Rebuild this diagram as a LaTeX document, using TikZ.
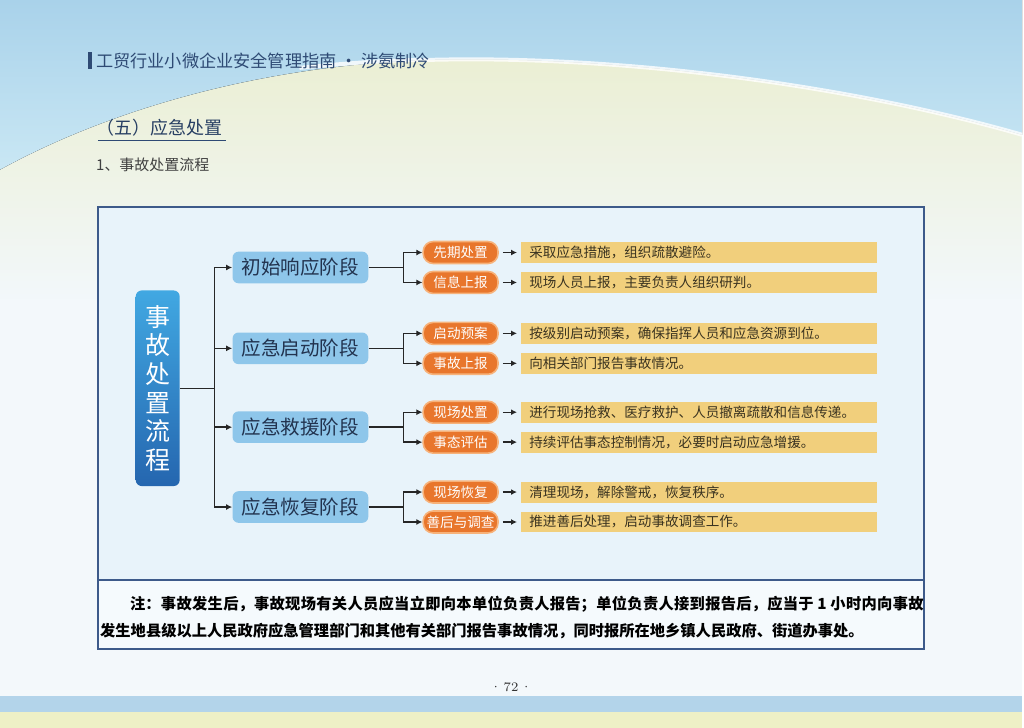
\documentclass[tikz,border=0pt]{standalone}
\usepackage{fontspec}
\usepackage{xcolor}
\usepackage{tikz}
\usetikzlibrary{arrows.meta,positioning,fadings}
\newfontfamily\cjk{Noto Sans CJK SC}
\XeTeXlinebreaklocale "zh"
\XeTeXlinebreakskip=0pt plus 1pt

\definecolor{pagebg}{HTML}{F3F8FB}
\definecolor{skytop}{HTML}{A9D2EA}
\definecolor{skylow}{HTML}{C9E7F4}
\definecolor{cream}{HTML}{EBEFD3}
\definecolor{framefill}{HTML}{E8F3FA}
\definecolor{notefill}{HTML}{F5FAFD}
\definecolor{frameline}{HTML}{3D5A8A}
\definecolor{rootlight}{HTML}{41A8E2}
\definecolor{rootdark}{HTML}{2566AF}
\definecolor{stagefill}{HTML}{8EC6EA}
\definecolor{stagetext}{HTML}{22334F}
\definecolor{tagfill}{HTML}{E8762C}
\definecolor{tagedge}{HTML}{F7B27A}
\definecolor{descfill}{HTML}{F1CF7C}
\definecolor{desctext}{HTML}{3A3320}
\definecolor{bandblue}{HTML}{B3D4EA}
\definecolor{bandyellow}{HTML}{EEF0C6}
\definecolor{headtext}{HTML}{2E4A74}

\begin{document}
\begin{tikzpicture}[x=0.5pt,y=-0.5pt,font=\cjk,>={Latex[length=3pt,width=3pt]},
  link/.style={draw=black!85,line width=0.7pt},
  rootbox/.style={rounded corners=3pt,top color=rootlight,bottom color=rootdark,draw=none,
    text=white,minimum width=22pt,minimum height=98pt,align=center,
    font=\cjk\fontsize{12.5pt}{14.3pt}\selectfont},
  stagebox/.style={rounded corners=3pt,fill=stagefill,text=stagetext,minimum width=68pt,
    minimum height=14pt,font=\cjk\fontsize{9.8pt}{11pt}\selectfont},
  tagbox/.style={rounded corners=5pt,fill=tagfill,draw=tagedge,line width=0.8pt,text=white,
    minimum width=37.5pt,minimum height=11pt,inner xsep=1pt,inner ysep=0pt,
    font=\cjk\fontsize{6.8pt}{8pt}\selectfont},
  descbox/.style={fill=descfill,text=desctext,anchor=west,text width=170pt,inner xsep=4pt,
    inner ysep=0pt,minimum height=10.5pt,align=left,font=\cjk\fontsize{6.8pt}{8pt}\selectfont}]

  % page background
  \fill[pagebg] (0,0) rectangle (1024,729);
  \fill[cream,path fading=south] (0,120) .. controls (100,90) and (250,60) .. (430,58)
    .. controls (620,53) and (850,85) .. (1024,130) -- (1024,300) -- (0,300) -- cycle;
  \fill[top color=skytop,bottom color=skylow] (0,0) -- (1024,0) -- (1024,135)
    .. controls (850,85) and (620,55) .. (430,60) .. controls (250,66) and (100,115) .. (0,170) -- cycle;
  \draw[white,line width=2pt,opacity=0.8] (300,68) .. controls (360,62) and (400,60) .. (430,60)
    .. controls (620,55) and (850,85) .. (1024,135);
  \fill[bandblue] (0,697) rectangle (1024,713);
  \fill[bandyellow] (0,713) rectangle (1024,729);

  % heading
  \fill[headtext] (88,52) rectangle (92,69);
  \node[anchor=west,inner sep=0pt,text=headtext,font=\cjk\fontsize{8.6pt}{10pt}\selectfont] (head) at (96,61)
    {工贸行业小微企业安全管理指南 · 涉氨制冷};
  \node[anchor=west,inner sep=0pt,text=headtext!85!black,font=\cjk\fontsize{9pt}{10pt}\selectfont] (sect) at (96,128)
    {（五）应急处置};
  \draw[headtext,line width=0.6pt] (98,141) -- (226,141);
  \node[anchor=west,inner sep=0pt,text=black!75,font=\cjk\fontsize{7.5pt}{9pt}\selectfont] (sub) at (96,165)
    {1、事故处置流程};

  % frame
  \fill[framefill] (98,207) rectangle (926,581);
  \fill[notefill] (98,581) rectangle (926,650);
  \draw[frameline,line width=1pt] (98,207) rectangle (926,650);
  \draw[frameline,line width=1pt] (98,581) -- (926,581);

  % root and stages
  \node[rootbox] (root) at (158,389) {事\\故\\处\\置\\流\\程};
  \node[stagebox] (s1) at (301,268) {初始响应阶段};
  \node[stagebox] (s2) at (301,349) {应急启动阶段};
  \node[stagebox] (s3) at (301,428) {应急救援阶段};
  \node[stagebox] (s4) at (301,508) {应急恢复阶段};
  \coordinate (rj) at (215,389);
  \draw[link] (root) -- (rj);
  \draw[link,->] (rj) |- (s1);
  \draw[link,->] (rj) |- (s2);
  \draw[link,->] (rj) |- (s3);
  \draw[link,->] (rj) |- (s4);

  % tags
  \node[tagbox] (t1a) at (461.5,253) {先期处置};
  \node[tagbox] (t1b) at (461.5,283) {信息上报};
  \node[tagbox] (t2a) at (461.5,334) {启动预案};
  \node[tagbox] (t2b) at (461.5,364) {事故上报};
  \node[tagbox] (t3a) at (461.5,413) {现场处置};
  \node[tagbox] (t3b) at (461.5,443) {事态评估};
  \node[tagbox] (t4a) at (461.5,493) {现场恢复};
  \node[tagbox] (t4b) at (461.5,523) {善后与调查};
  \coordinate (j1) at (404,268);
  \coordinate (j2) at (404,349);
  \coordinate (j3) at (404,428);
  \coordinate (j4) at (404,508);
  \draw[link] (s1) -- (j1);
  \draw[link] (s2) -- (j2);
  \draw[link] (s3) -- (j3);
  \draw[link] (s4) -- (j4);
  \draw[link,->] (j1) |- (t1a);
  \draw[link,->] (j1) |- (t1b);
  \draw[link,->] (j2) |- (t2a);
  \draw[link,->] (j2) |- (t2b);
  \draw[link,->] (j3) |- (t3a);
  \draw[link,->] (j3) |- (t3b);
  \draw[link,->] (j4) |- (t4a);
  \draw[link,->] (j4) |- (t4b);

  % descriptions
  \node[descbox] (d1a) at (522,253) {采取应急措施，组织疏散避险。};
  \node[descbox] (d1b) at (522,283) {现场人员上报，主要负责人组织研判。};
  \node[descbox] (d2a) at (522,334) {按级别启动预案，确保指挥人员和应急资源到位。};
  \node[descbox] (d2b) at (522,364) {向相关部门报告事故情况。};
  \node[descbox] (d3a) at (522,413) {进行现场抢救、医疗救护、人员撤离疏散和信息传递。};
  \node[descbox] (d3b) at (522,443) {持续评估事态控制情况，必要时启动应急增援。};
  \node[descbox] (d4a) at (522,493) {清理现场，解除警戒，恢复秩序。};
  \node[descbox] (d4b) at (522,523) {推进善后处理，启动事故调查工作。};
  \draw[link,->,shorten <=2pt,shorten >=2pt] (t1a) -- (d1a);
  \draw[link,->,shorten <=2pt,shorten >=2pt] (t1b) -- (d1b);
  \draw[link,->,shorten <=2pt,shorten >=2pt] (t2a) -- (d2a);
  \draw[link,->,shorten <=2pt,shorten >=2pt] (t2b) -- (d2b);
  \draw[link,->,shorten <=2pt,shorten >=2pt] (t3a) -- (d3a);
  \draw[link,->,shorten <=2pt,shorten >=2pt] (t3b) -- (d3b);
  \draw[link,->,shorten <=2pt,shorten >=2pt] (t4a) -- (d4a);
  \draw[link,->,shorten <=2pt,shorten >=2pt] (t4b) -- (d4b);

  % note
  \node[anchor=north west,inner sep=0pt,text width=412.5pt,align=justify,
    font=\cjk\bfseries\fontsize{7.65pt}{13.5pt}\selectfont] (note) at (100,597)
    {\hspace*{15pt}注：事故发生后，事故现场有关人员应当立即向本单位负责人报告；单位负责人接到报告后，应当于 1 小时内向事故\linebreak 发生地县级以上人民政府应急管理部门和其他有关部门报告事故情况，同时报所在地乡镇人民政府、街道办事处。};

  % page number
  \node[font=\fontsize{6.5pt}{7pt}\selectfont,text=black!80] (page) at (512,689) {·\,72\,·};
\end{tikzpicture}
\end{document}
